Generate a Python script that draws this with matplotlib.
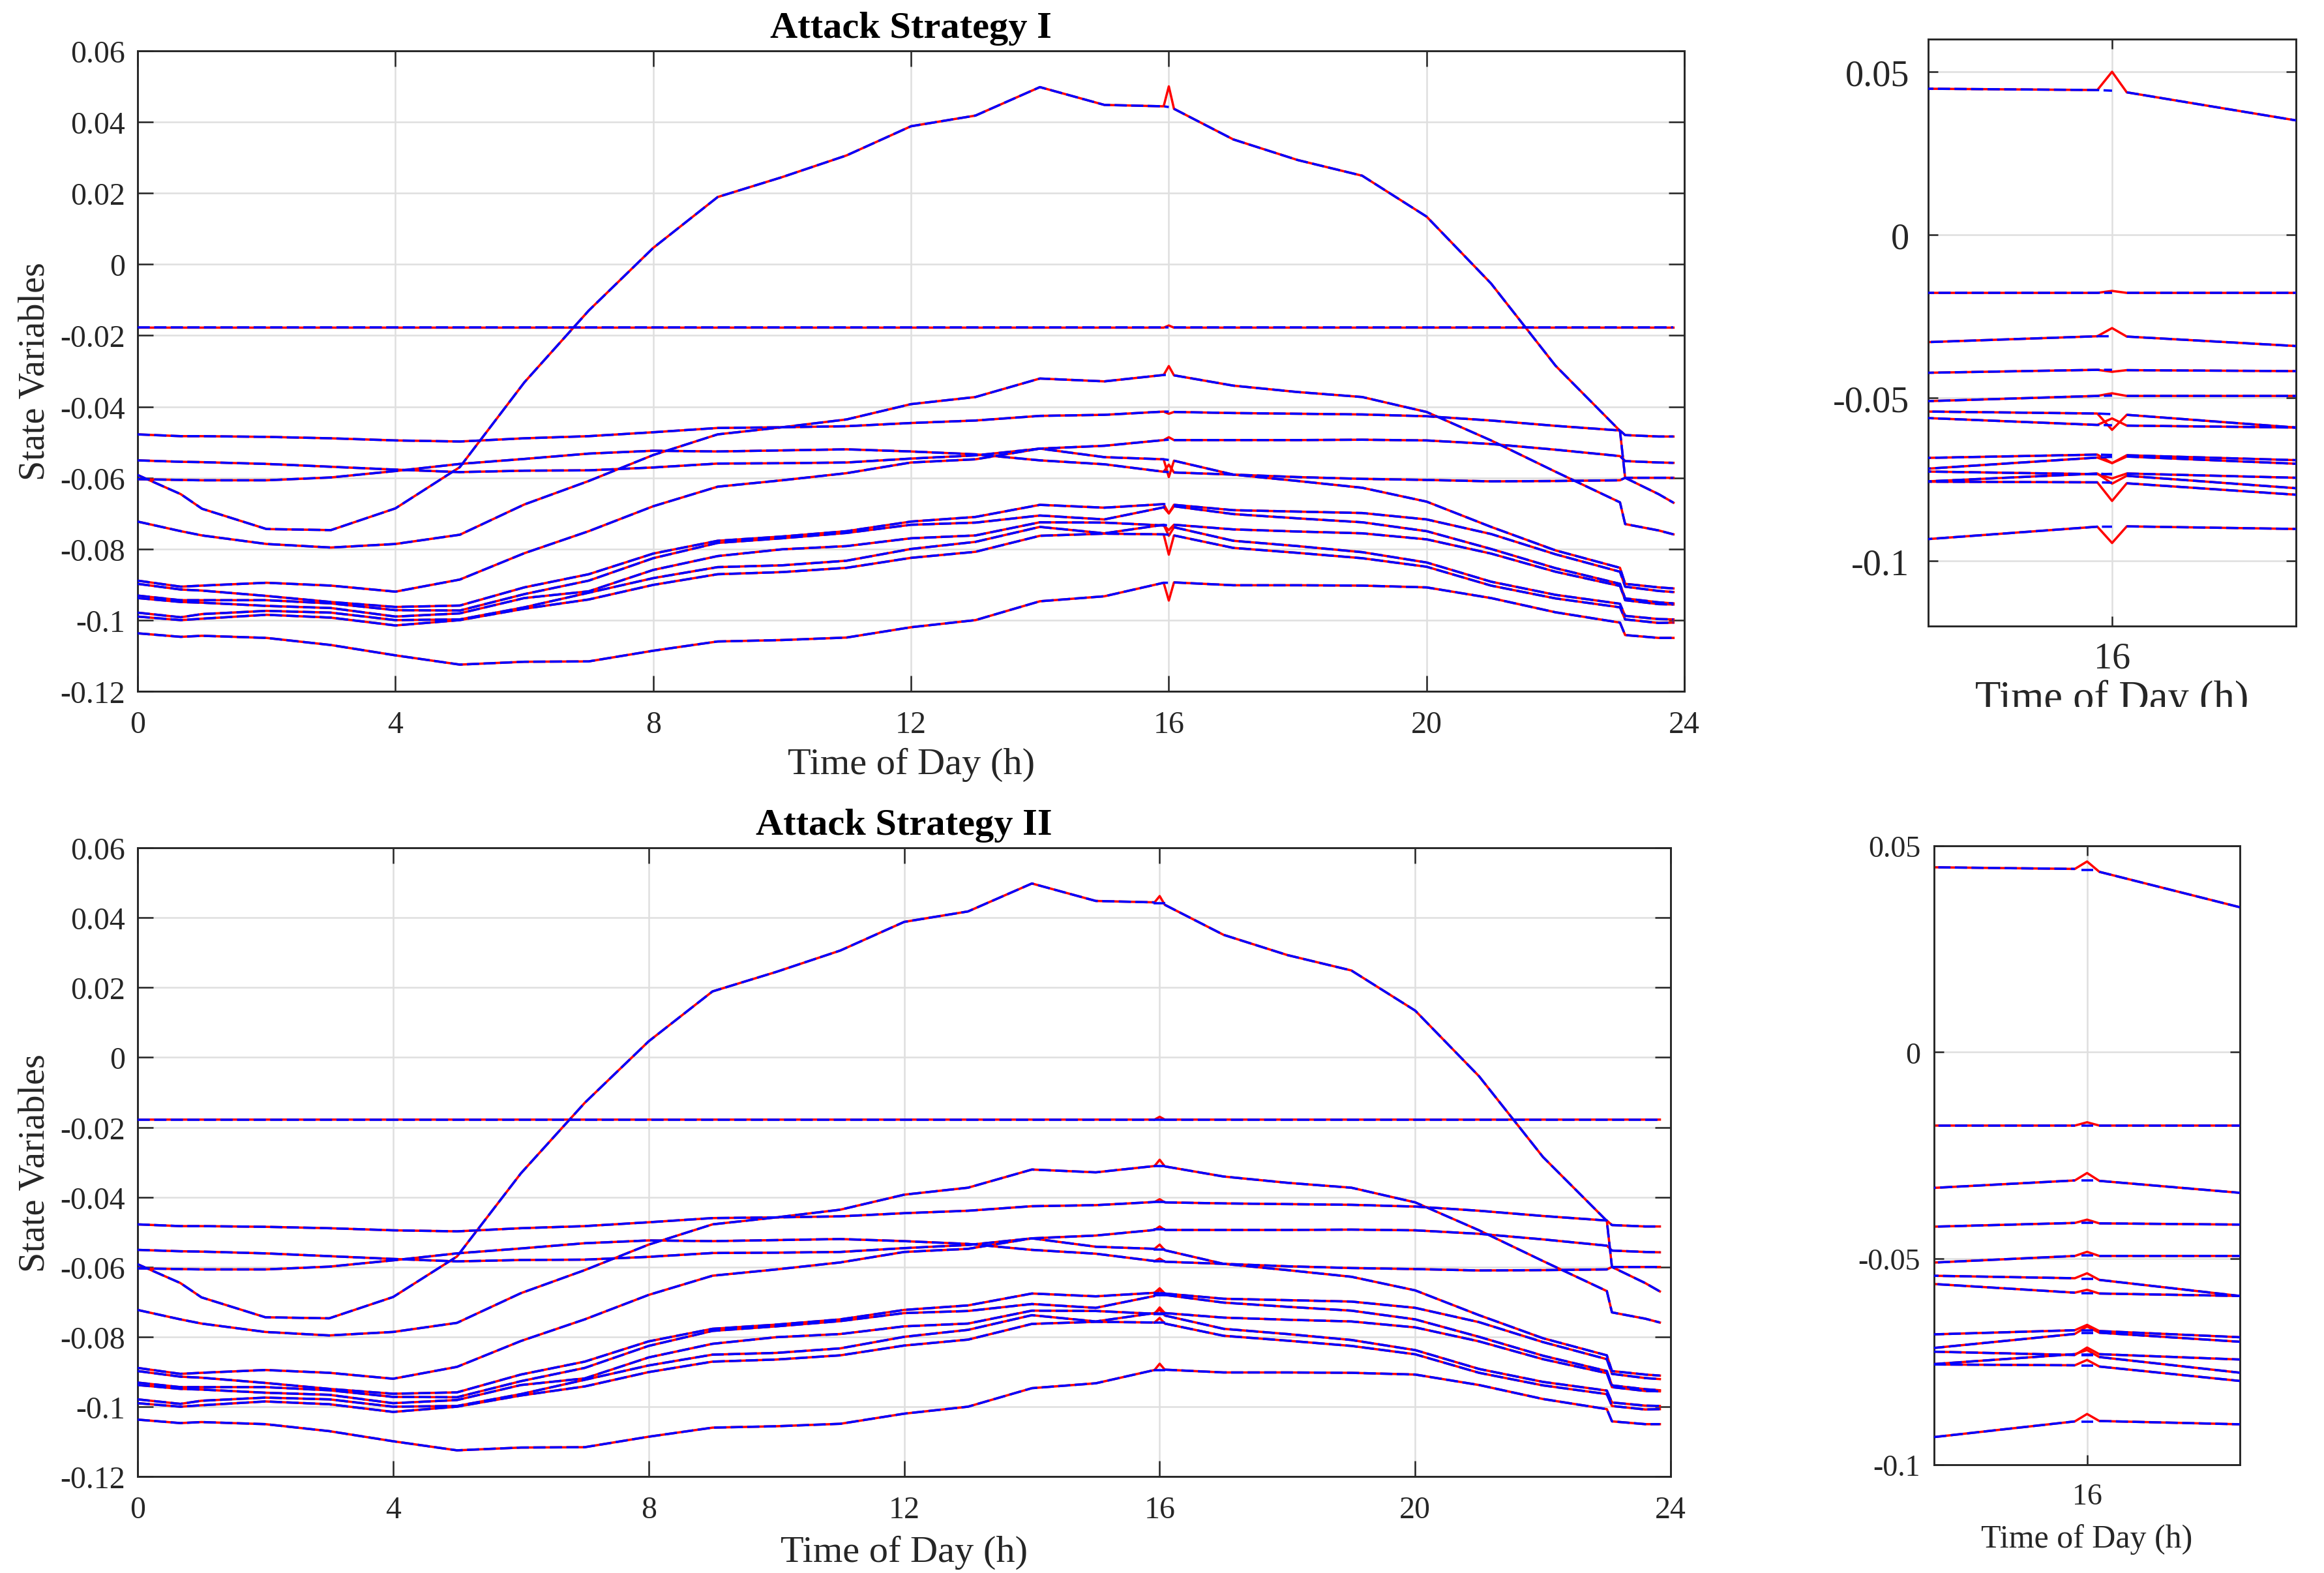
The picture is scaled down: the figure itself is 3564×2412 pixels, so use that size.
import numpy as np
import matplotlib
matplotlib.use('Agg')
import matplotlib.pyplot as plt
from matplotlib.ticker import FuncFormatter
from matplotlib.transforms import Bbox

plt.rcParams['font.family'] = ['Liberation Serif', 'DejaVu Serif']
plt.rcParams['axes.unicode_minus'] = False
plt.rcParams['lines.scale_dashes'] = False

# sample times (h)
hours = [0, 0.67, 1, 2, 3, 4, 5, 6, 7, 8, 9, 10, 11, 12, 13, 14, 15,
         15.92, 16, 16.08, 17, 18, 19, 20, 21, 22, 23, 23.08, 23.6, 23.83]

# state variables (estimated / un-attacked trajectories)
state_01 = [-0.0592, -0.0646, -0.0687, -0.0744, -0.0747, -0.0686, -0.0570, -0.0332, -0.0130, 0.0046,
            0.0189, 0.0245, 0.0306, 0.0388, 0.0418, 0.0498, 0.0448, 0.0444, 0.0442, 0.0437,
            0.0351, 0.0293, 0.0249, 0.0134, -0.0054, -0.0285, -0.0468, -0.0600, -0.0646, -0.0670]
state_02 = [-0.0178, -0.0178, -0.0178, -0.0178, -0.0178, -0.0178, -0.0178, -0.0178, -0.0178, -0.0178,
            -0.0178, -0.0178, -0.0178, -0.0178, -0.0178, -0.0178, -0.0178, -0.0178, -0.0178, -0.0178,
            -0.0178, -0.0178, -0.0178, -0.0178, -0.0178, -0.0178, -0.0178, -0.0178, -0.0178, -0.0178]
state_03 = [-0.0723, -0.0750, -0.0762, -0.0786, -0.0796, -0.0786, -0.0760, -0.0675, -0.0609, -0.0536,
            -0.0478, -0.0458, -0.0436, -0.0393, -0.0373, -0.0321, -0.0329, -0.0311, -0.0311, -0.0312,
            -0.0341, -0.0359, -0.0373, -0.0415, -0.0495, -0.0583, -0.0669, -0.0730, -0.0748, -0.0759]
state_04 = [-0.0478, -0.0483, -0.0483, -0.0485, -0.0489, -0.0495, -0.0498, -0.0489, -0.0483, -0.0472,
            -0.0460, -0.0458, -0.0455, -0.0446, -0.0439, -0.0426, -0.0423, -0.0414, -0.0414, -0.0415,
            -0.0418, -0.0420, -0.0422, -0.0427, -0.0439, -0.0454, -0.0467, -0.0480, -0.0484, -0.0484]
state_05 = [-0.0551, -0.0555, -0.0556, -0.0561, -0.0569, -0.0577, -0.0584, -0.0580, -0.0579, -0.0571,
            -0.0560, -0.0559, -0.0557, -0.0546, -0.0537, -0.0518, -0.0510, -0.0494, -0.0493, -0.0494,
            -0.0494, -0.0494, -0.0493, -0.0495, -0.0505, -0.0521, -0.0539, -0.0553, -0.0557, -0.0558]
state_06 = [-0.0604, -0.0606, -0.0607, -0.0607, -0.0599, -0.0581, -0.0561, -0.0547, -0.0532, -0.0524,
            -0.0526, -0.0523, -0.0520, -0.0526, -0.0534, -0.0551, -0.0562, -0.0583, -0.0584, -0.0585,
            -0.0591, -0.0598, -0.0603, -0.0606, -0.0610, -0.0609, -0.0607, -0.0600, -0.0600, -0.0600]
state_07 = [-0.0889, -0.0906, -0.0903, -0.0895, -0.0903, -0.0920, -0.0886, -0.0812, -0.0750, -0.0680,
            -0.0625, -0.0607, -0.0587, -0.0557, -0.0548, -0.0518, -0.0542, -0.0548, -0.0550, -0.0552,
            -0.0591, -0.0609, -0.0628, -0.0667, -0.0738, -0.0804, -0.0853, -0.0898, -0.0908, -0.0911]
state_08 = [-0.0898, -0.0914, -0.0917, -0.0932, -0.0949, -0.0963, -0.0959, -0.0908, -0.0871, -0.0813,
            -0.0777, -0.0765, -0.0750, -0.0723, -0.0710, -0.0676, -0.0684, -0.0674, -0.0675, -0.0676,
            -0.0691, -0.0695, -0.0699, -0.0717, -0.0758, -0.0815, -0.0864, -0.0906, -0.0918, -0.0921]
state_09 = [-0.0931, -0.0944, -0.0944, -0.0944, -0.0953, -0.0972, -0.0973, -0.0927, -0.0889, -0.0826,
            -0.0783, -0.0770, -0.0755, -0.0732, -0.0726, -0.0706, -0.0717, -0.0683, -0.0681, -0.0680,
            -0.0702, -0.0714, -0.0725, -0.0750, -0.0800, -0.0854, -0.0898, -0.0939, -0.0950, -0.0953]
state_10 = [-0.0938, -0.0949, -0.0951, -0.0960, -0.0966, -0.0990, -0.0981, -0.0938, -0.0919, -0.0859,
            -0.0820, -0.0801, -0.0792, -0.0770, -0.0762, -0.0725, -0.0726, -0.0734, -0.0733, -0.0732,
            -0.0745, -0.0751, -0.0756, -0.0773, -0.0813, -0.0864, -0.0904, -0.0944, -0.0955, -0.0956]
state_11 = [-0.0979, -0.0992, -0.0983, -0.0974, -0.0979, -0.1000, -0.0998, -0.0964, -0.0923, -0.0882,
            -0.0851, -0.0846, -0.0833, -0.0800, -0.0780, -0.0738, -0.0756, -0.0732, -0.0735, -0.0739,
            -0.0777, -0.0792, -0.0809, -0.0838, -0.0892, -0.0929, -0.0954, -0.0988, -0.0997, -0.0998]
state_12 = [-0.0990, -0.1000, -0.0996, -0.0985, -0.0993, -0.1015, -0.1000, -0.0968, -0.0942, -0.0901,
            -0.0871, -0.0865, -0.0853, -0.0825, -0.0808, -0.0763, -0.0757, -0.0759, -0.0760, -0.0762,
            -0.0797, -0.0811, -0.0826, -0.0850, -0.0903, -0.0939, -0.0964, -0.0998, -0.1008, -0.1007]
state_13 = [-0.1037, -0.1047, -0.1044, -0.1050, -0.1070, -0.1099, -0.1125, -0.1117, -0.1116, -0.1086,
            -0.1060, -0.1056, -0.1049, -0.1020, -0.1000, -0.0947, -0.0933, -0.0895, -0.0895, -0.0894,
            -0.0902, -0.0902, -0.0903, -0.0908, -0.0938, -0.0978, -0.1007, -0.1042, -0.1050, -0.1050]

states = [state_01, state_02, state_03, state_04, state_05, state_06, state_07,
          state_08, state_09, state_10, state_11, state_12, state_13]

# attacked value of each state at t = 16 h
attack1_at16 = [0.0500, -0.0172, -0.0286, -0.0420, -0.0486, -0.0563, -0.0598,
                -0.0700, -0.0700, -0.0747, -0.0763, -0.0816, -0.0945]
attack2_at16 = [0.0462, -0.0170, -0.0293, -0.0406, -0.0484, -0.0576, -0.0536,
                -0.0661, -0.0665, -0.0716, -0.0722, -0.0746, -0.0877]

t = np.array(hours)
i16 = hours.index(16)
axcol = '#262626'
lw = 0.85


def fmt(v, p):
    if abs(v) < 1e-9:
        return '0'
    return '%g' % round(v, 6)


def draw_lines(ax, spikes, strategy):
    for base, s in zip(states, spikes):
        yr = np.array(base, dtype=float)
        yr[i16] = s
        ax.plot(t, yr, color='r', lw=lw, zorder=2)
        yb = np.array(base, dtype=float)
        if strategy == 1:
            tb = np.insert(t, i16 + 1, np.nan)
            yb = np.insert(yb, i16 + 1, np.nan)
            ax.plot(tb, yb, color='b', lw=lw, dashes=(4.5, 1.6), zorder=3)
        else:
            tb = np.insert(t, [i16, i16 + 1], np.nan)
            yb = np.insert(yb, [i16, i16 + 1], np.nan)
            ax.plot(tb, yb, color='b', lw=lw, dashes=(4.5, 1.6), zorder=3)
            ax.plot([hours[i16]], [base[i16]], color='b', marker='_', ms=4.2, mew=lw, zorder=3)


def style(ax, ticklen, labelsize, padx, pady):
    ax.grid(True, color='#dfdfdf', lw=0.6)
    ax.set_axisbelow(True)
    ax.tick_params(direction='in', top=True, right=True, length=ticklen, width=0.6,
                   colors=axcol, labelsize=labelsize)
    ax.tick_params(axis='x', pad=padx)
    ax.tick_params(axis='y', pad=pady)
    for sp in ax.spines.values():
        sp.set_color(axcol)
        sp.set_linewidth(0.7)
    ax.yaxis.set_major_formatter(FuncFormatter(fmt))


fig = plt.figure(figsize=(11.88, 8.0433), dpi=300)

main_ticks_y = [-0.12, -0.1, -0.08, -0.06, -0.04, -0.02, 0, 0.02, 0.04, 0.06]
main_ticks_x = [0, 4, 8, 12, 16, 20, 24]

# ---- Attack Strategy I
ax1 = fig.add_axes([0.0592, 0.5603, 0.6656, 0.4070])
draw_lines(ax1, attack1_at16, 1)
ax1.set_xlim(0, 24)
ax1.set_ylim(-0.12, 0.06)
ax1.set_xticks(main_ticks_x)
ax1.set_yticks(main_ticks_y)
style(ax1, 5.8, 11.5, 7, 4.5)
ax1.set_title('Attack Strategy I', fontsize=14, fontweight='bold', pad=5)
ax1.set_xlabel('Time of Day (h)', fontsize=14, color=axcol, labelpad=3)
ax1.set_ylabel('State Variables', fontsize=13.5, color=axcol, labelpad=3)

ax1z = fig.add_axes([0.8297, 0.6017, 0.1582, 0.3730])
draw_lines(ax1z, attack1_at16, 1)
ax1z.set_xlim(15, 17)
ax1z.set_ylim(-0.12, 0.06)
ax1z.set_xticks([16])
ax1z.set_yticks([-0.1, -0.05, 0, 0.05])
style(ax1z, 3.6, 13.5, 5.5, 7)
ax1z.set_xlabel('Time of Day (h)', fontsize=15.5, color=axcol, labelpad=1.5)
# the original panel is cropped just below this label
ax1z.xaxis.label.set_clip_box(Bbox.from_extents(0, 2413 - 1085, 3564, 2413))
ax1z.xaxis.label.set_clip_on(True)

# ---- Attack Strategy II
ax2 = fig.add_axes([0.0592, 0.0613, 0.6597, 0.3995])
draw_lines(ax2, attack2_at16, 2)
ax2.set_xlim(0, 24)
ax2.set_ylim(-0.12, 0.06)
ax2.set_xticks(main_ticks_x)
ax2.set_yticks(main_ticks_y)
style(ax2, 5.8, 11.5, 7, 4.5)
ax2.set_title('Attack Strategy II', fontsize=14, fontweight='bold', pad=5)
ax2.set_xlabel('Time of Day (h)', fontsize=14, color=axcol, labelpad=4)
ax2.set_ylabel('State Variables', fontsize=13.5, color=axcol, labelpad=3)

ax2z = fig.add_axes([0.8322, 0.0688, 0.1317, 0.3933])
draw_lines(ax2z, attack2_at16, 2)
ax2z.set_xlim(15, 17)
ax2z.set_ylim(-0.1, 0.05)
ax2z.set_xticks([16])
ax2z.set_yticks([-0.1, -0.05, 0, 0.05])
style(ax2z, 3.6, 11, 6.5, 5)
ax2z.set_xlabel('Time of Day (h)', fontsize=12, color=axcol, labelpad=5)

fig.savefig('out.png', dpi=300, facecolor='white')
